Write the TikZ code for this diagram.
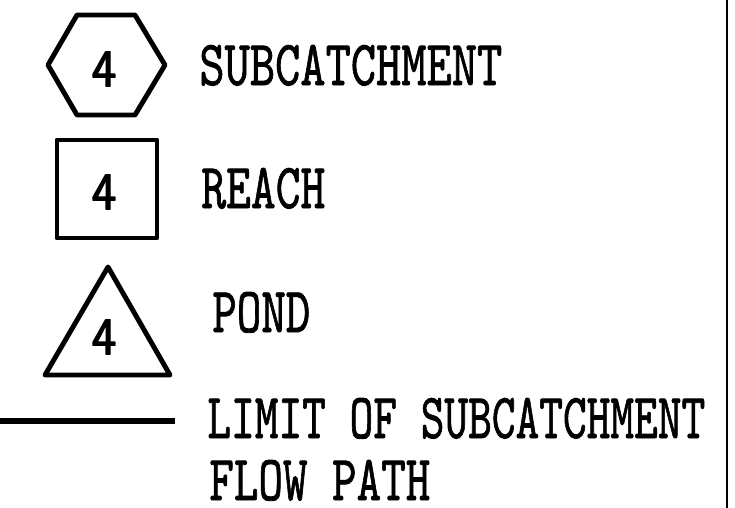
\documentclass[tikz,border=0pt]{standalone}
\usepackage{fontspec}
\usepackage{graphicx}
\newfontfamily\legfont[FakeBold=1.3]{Latin Modern Mono}
\newfontfamily\numfont[FakeBold=2.2]{Latin Modern Sans}
\newcommand{\legtxt}[2]{\resizebox{#1}{0.8cm}{\legfont #2}}

\begin{document}
\begin{tikzpicture}[x=0.02cm,y=-0.02cm,line join=round,line cap=round,
  symb/.style={line width=2.8pt},
  numb/.style={inner sep=0pt,font=\fontsize{30}{30}\numfont\selectfont},
  lbl/.style={anchor=base west,inner sep=0pt}]
\useasboundingbox (0,0) rectangle (735,508);
% subcatchment
\coordinate (h1) at (48,65);
\coordinate (h2) at (77,15);
\coordinate (h3) at (135,15);
\coordinate (h4) at (165,65);
\coordinate (h5) at (135,115);
\coordinate (h6) at (77,115);
\draw[symb] (h1) -- (h2) -- (h3) -- (h4) -- (h5) -- (h6) -- cycle;
\node[numb] (nsub) at (104,69) {4};
\node[lbl] (tsub) at (199,85) {\legtxt{6.06cm}{SUBCATCHMENT}};
% reach
\coordinate (r1) at (57,140);
\coordinate (r2) at (157,238);
\draw[symb] (r1) rectangle (r2);
\node[numb] (nreach) at (104,192) {4};
\node[lbl] (treach) at (201,208) {\legtxt{2.48cm}{REACH}};
% pond
\coordinate (t1) at (108,267);
\coordinate (t2) at (170,375);
\coordinate (t3) at (45,375);
\draw[symb] (t1) -- (t2) -- (t3) -- cycle;
\node[numb] (npond) at (104,337) {4};
\node[lbl] (tpond) at (212,332) {\legtxt{1.96cm}{POND}};
% limit line
\coordinate (l1) at (0,421);
\coordinate (l2) at (175,421);
\draw[line width=3.4pt,line cap=butt] (l1) -- (l2);
\node[lbl] (tlim) at (207,438) {\legtxt{9.96cm}{LIMIT OF SUBCATCHMENT}};
\node[lbl] (tflow) at (209,500) {\legtxt{4.42cm}{FLOW PATH}};
% frame
\coordinate (f1) at (727,0);
\coordinate (f2) at (727,508);
\draw[line width=1.1pt,line cap=butt] (f1) -- (f2);
\end{tikzpicture}
\end{document}
